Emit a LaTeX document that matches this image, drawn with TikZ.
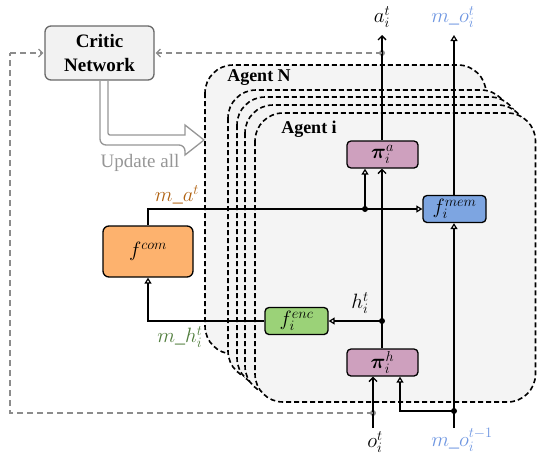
\documentclass[tikz,border=0pt]{standalone}
\usepackage{amsmath}
\usepackage{bm}
\usepackage{fontspec}
\setmainfont{Liberation Serif}
\usetikzlibrary{arrows.meta}

\definecolor{agentfill}{RGB}{244,244,244}
\definecolor{criticfill}{RGB}{242,242,242}
\definecolor{criticedge}{RGB}{105,105,105}
\definecolor{linkgray}{RGB}{140,140,140}
\definecolor{updgray}{RGB}{150,150,150}
\definecolor{comfill}{RGB}{253,178,110}
\definecolor{encfill}{RGB}{155,210,120}
\definecolor{memfill}{RGB}{125,165,225}
\definecolor{pifill}{RGB}{206,160,190}
\definecolor{macol}{RGB}{176,98,18}
\definecolor{mhcol}{RGB}{80,125,60}
\definecolor{mocol}{RGB}{110,150,225}

\tikzset{
  agentbox/.style={draw=black, fill=agentfill, dash pattern=on 5pt off 3pt, line width=1.6pt, rounded corners=28pt},
  fbox/.style={draw=black, line width=1.3pt, rounded corners=4pt, inner sep=0pt, minimum height=27pt, font=\fontsize{20}{22}\selectfont},
  conn/.style={line width=1.3pt},
  tri/.style={conn, -{Triangle[open, length=6pt, width=7pt, line width=1.2pt]}},
  barb/.style={conn, -{Straight Barb[length=4pt, width=8pt, line width=1.3pt]}},
  glink/.style={draw=linkgray, line width=1.3pt, dash pattern=on 6pt off 4pt},
  gbarb/.style={glink, -{Straight Barb[length=4pt, width=8pt, line width=1.2pt, sep=1pt]}},
  dot/.style={circle, fill=black, inner sep=0pt, minimum size=6pt},
  gdot/.style={circle, fill=linkgray, inner sep=0pt, minimum size=6pt},
  lbl/.style={font=\fontsize{20}{22}\selectfont, inner sep=0pt},
  agentlbl/.style={font=\fontsize{18}{20}\selectfont\bfseries, inner sep=0pt},
}

\begin{document}
\begin{tikzpicture}[x=1pt, y=-1pt]
\useasboundingbox (0,0) rectangle (537,464);

% stacked agent copies, back to front
\draw[agentbox] (205,65) rectangle (486,354);
\draw[agentbox] (228,90) rectangle (509,379);
\draw[agentbox] (237,97) rectangle (518,386);
\draw[agentbox] (245,105) rectangle (526,394);
\draw[agentbox] (255,113) rectangle (535.5,402);
\node[agentlbl] (agentN) at (259,78) {Agent N};
\node[agentlbl] (agenti) at (309,129) {Agent i};

% critic
\node[draw=criticedge, fill=criticfill, line width=1.3pt, rounded corners=6pt,
      minimum width=109pt, minimum height=54pt, inner sep=0pt, align=center,
      font=\fontsize{19}{24}\selectfont\bfseries] (critic) at (99.5,53) {Critic\\Network};

% update arrow
\draw[updgray, line width=1.3pt, fill=white, rounded corners=6pt]
  (100,81) -- (100,145) -- (185,145) [sharp corners] -- (185,155) -- (204,140) -- (185,125) -- (185,135)
  [rounded corners=2pt] -- (108,135) -- (108,81);
\node[font=\fontsize{19}{21}\selectfont, text=updgray, inner sep=0pt] (upd) at (140,163) {Update all};

% function blocks
\node[fbox, fill=comfill, minimum width=90pt, minimum height=51pt, rounded corners=6pt,
      font=\fontsize{21}{23}\selectfont] (fcom) at (148,251.5) {$f^{com}$};
\node[fbox, fill=encfill, minimum width=63pt] (fenc) at (296.5,321) {$f_i^{enc}$};
\node[fbox, fill=memfill, minimum width=63pt] (fmem) at (454.5,209) {$f_i^{mem}$};
\node[fbox, fill=pifill, minimum width=71pt] (pia) at (382.5,154.5) {$\boldsymbol{\pi}_i^{a}$};
\node[fbox, fill=pifill, minimum width=71pt] (pih) at (382.5,362.5) {$\boldsymbol{\pi}_i^{h}$};

% inputs / outputs
\node[lbl] (alab) at (382,17) {$a_i^t$};
\node[lbl, text=mocol] (motlab) at (453,17) {$m\_o_i^t$};
\node[lbl] (olab) at (375,442) {$o_i^t$};
\node[lbl, text=mocol] (moplab) at (462,440) {$m\_o_i^{t-1}$};
\node[lbl, text=macol] (malab) at (177,195) {$m\_a^t$};
\node[lbl, text=mhcol] (mhlab) at (180,337) {$m\_h_i^t$};
\node[lbl] (hlab) at (360,303) {$h_i^t$};

\coordinate (atop) at (382,35);
\coordinate (motop) at (454,35);
\coordinate (obot) at (373,428);
\coordinate (mobot) at (454,428);
\coordinate (pihin) at (400,428);
\coordinate (gleftb) at (10,413);
\coordinate (glefttop) at (10,53);

\node[dot] (hdot) at (382,321) {};
\node[dot] (madot) at (365,209) {};
\node[dot] (modot) at (454,411) {};
\node[gdot] (gadot) at (382,53) {};
\node[gdot] (godot) at (373,413) {};

% actions and memory output
\draw[barb] (pia.north -| atop) -- (atop);
\draw[tri] (fmem.north -| motop) -- (motop);

% observation path
\draw[barb] (obot) -- (pih.south -| obot);
\draw[conn] (mobot) -- (modot.center);
\draw[tri] (modot.center) -- (fmem.south -| modot);
\draw[tri] (modot.center) -| (pih.south -| pihin);

% hidden state
\draw[conn] (pih.north -| hdot) -- (hdot.center);
\draw[barb] (hdot.center) -- (pia.south -| hdot);
\draw[tri] (hdot.center) -- (fenc.east);

% communication
\draw[tri] (fenc.west) -| (fcom.south);
\draw[tri] (fcom.north) |- (fmem.west);
\draw[tri] (madot.center) -- (pia.south -| madot);

% critic links
\draw[gbarb] (gadot.center) -- (critic.east);
\draw[glink] (godot.center) -- (gleftb) -- (glefttop);
\draw[gbarb] (glefttop) -- (critic.west);
\end{tikzpicture}
\end{document}
